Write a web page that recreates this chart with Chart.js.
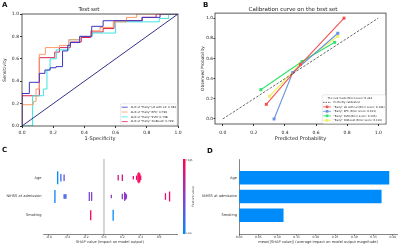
<!DOCTYPE html>
<html>
<head>
<meta charset="utf-8">
<script src="https://cdn.jsdelivr.net/npm/chart.js@4.4.1/dist/chart.umd.min.js"></script>
<style>
  html, body { margin: 0; padding: 0; background: #fff; }
  body { width: 400px; height: 246px; position: relative; overflow: hidden; font-family: "DejaVu Sans", sans-serif; }
  .panel { position: absolute; }
  .tag { position: absolute; font-weight: bold; font-size: 7px; line-height: 7px; color: #111; }
</style>
</head>
<body>
<div class="panel" style="left:0;top:0;width:200px;height:146px"><canvas id="rocChart"></canvas></div>
<div class="panel" style="left:200px;top:0;width:200px;height:146px"><canvas id="calibChart"></canvas></div>
<div class="panel" style="left:0;top:148px;width:200px;height:98px"><canvas id="swarmChart"></canvas></div>
<div class="panel" style="left:200px;top:148px;width:200px;height:98px"><canvas id="barChart"></canvas></div>
<div class="tag" style="left:2px;top:2px">A</div>
<div class="tag" style="left:203px;top:2px">B</div>
<div class="tag" style="left:2px;top:147px">C</div>
<div class="tag" style="left:207px;top:148px">D</div>
<script>
Chart.defaults.font.family = '"DejaVu Sans", sans-serif';
Chart.defaults.color = '#222';
Chart.defaults.animation = false;

// ---- A: ROC on the test set ----
const unitTicks = [0, 0.2, 0.4, 0.6, 0.8, 1.0];
const rocLabels = [
    'AUC of "Early" LR with L2: 0.784',
    'AUC of "Early" RFC: 0.799',
    'AUC of "Early" SVM: 0.738',
    'AUC of "Early" XGBoost: 0.799',
];
const chanceFpr = [0, 1];
const chanceTpr = [0, 1];
const lrFpr = [0, 0, 0.047, 0.047, 0.111, 0.111, 0.147, 0.147, 0.18, 0.18, 0.218, 0.218, 0.26, 0.26, 0.293, 0.293, 0.31, 0.31, 0.37, 0.37, 0.447, 0.447, 0.52, 0.52, 0.77, 0.77, 0.885, 0.885, 1];
const lrTpr = [0, 0.29, 0.29, 0.39, 0.39, 0.47, 0.47, 0.50, 0.50, 0.52, 0.52, 0.53, 0.53, 0.67, 0.67, 0.72, 0.72, 0.745, 0.745, 0.80, 0.80, 0.89, 0.89, 0.94, 0.94, 0.97, 0.97, 1, 1];
const rfcFpr = [0, 0, 0.073, 0.073, 0.09, 0.09, 0.111, 0.111, 0.15, 0.15, 0.24, 0.24, 0.30, 0.30, 0.37, 0.37, 0.44, 0.44, 0.50, 0.50, 0.585, 0.585, 0.67, 0.67, 0.735, 0.735, 1];
const rfcTpr = [0, 0.19, 0.19, 0.22, 0.22, 0.33, 0.33, 0.64, 0.64, 0.70, 0.70, 0.72, 0.72, 0.77, 0.77, 0.80, 0.80, 0.85, 0.85, 0.88, 0.88, 0.93, 0.93, 0.97, 0.97, 1, 1];
const svmFpr = [0, 0.068, 0.068, 0.137, 0.137, 0.16, 0.16, 0.18, 0.18, 0.22, 0.22, 0.30, 0.30, 0.37, 0.37, 0.45, 0.45, 0.60, 0.60, 0.88, 0.88, 0.94, 0.94, 1];
const svmTpr = [0, 0, 0.27, 0.27, 0.33, 0.33, 0.50, 0.50, 0.60, 0.60, 0.68, 0.68, 0.77, 0.77, 0.80, 0.80, 0.83, 0.83, 0.93, 0.93, 0.96, 0.96, 1, 1];
const xgbFpr = [0, 0, 0.111, 0.111, 0.21, 0.21, 0.24, 0.24, 0.31, 0.31, 0.38, 0.38, 0.44, 0.44, 0.52, 0.52, 0.59, 0.59, 0.77, 0.77, 0.86, 0.86, 1];
const xgbTpr = [0, 0.27, 0.27, 0.61, 0.61, 0.66, 0.66, 0.70, 0.70, 0.75, 0.75, 0.79, 0.79, 0.84, 0.84, 0.87, 0.87, 0.94, 0.94, 0.97, 0.97, 1, 1];

// ---- B: calibration on the test set ----
const nullModelText = 'The null model Brier score: 0.244';
const perfectLabel = 'Perfectly calibrated';
const calibLabels = [
    '"Early" LR with L2 (Brier score: 0.184)',
    '"Early" RFC (Brier score: 0.191)',
    '"Early" SVM (Brier score: 0.195)',
    '"Early" XGBoost (Brier score: 0.191)',
];
const perfectPred = [0, 1];
const perfectObs = [0, 1];
const lrPred = [0.28, 0.50, 0.78];
const lrObs = [0.145, 0.54, 1.0];
const rfcPred = [0.33, 0.45, 0.74];
const rfcObs = [0.0, 0.46, 0.85];
const svmPred = [0.245, 0.51, 0.72];
const svmObs = [0.29, 0.57, 0.76];
const xgbPred = [0.30, 0.50, 0.74];
const xgbObs = [0.225, 0.55, 0.82];

// ---- C / D: SHAP ----
const features = ['Age', 'NIHSS at admission', 'Smoking'];
const shapTicks = [-0.6, -0.4, -0.2, 0.0, 0.2, 0.4, 0.6];
const ageShap = [-0.505, -0.47, -0.435, 0.155, 0.20, 0.32, 0.355, 0.37, 0.38, 0.39, 0.40];
const ageValue = [0.0, 0.2, 0.35, 0.8, 0.8, 0.85, 0.9, 0.95, 1.0, 0.95, 0.9];
const ageCount = [12, 7, 6, 5, 6, 3, 4, 8, 10, 8, 4];
const nihssShap = [-0.535, -0.435, -0.425, -0.415, -0.16, -0.135, 0.08, 0.20, 0.225, 0.235, 0.245, 0.67, 0.715];
const nihssValue = [0.05, 0.25, 0.25, 0.25, 0.4, 0.5, 0.5, 0.45, 0.5, 0.5, 0.45, 0.85, 0.95];
const nihssCount = [12, 4, 4, 4, 8, 8, 3, 5, 8, 6, 4, 6, 9];
const smokingShap = [-0.145, 0.10];
const smokingValue = [1.0, 0.0];
const smokingCount = [9, 10];
const meanAbsShap = [0.39, 0.37, 0.115];
const barTicks = [0, 0.05, 0.10, 0.15, 0.20, 0.25, 0.30, 0.35, 0.40];

const pts = (xs, ys) => xs.map((x, i) => ({x: x, y: ys[i]}));
const fixSize = (px) => (scale) => {
    if (scale.isHorizontal()) scale.height = px; else scale.width = px;
};
const useTicks = (values) => (scale) => {
    scale.ticks = values.map(v => ({value: v}));
};

// shap red_blue colour map
const shapStops = [[0, [0, 139, 251]], [0.5, [140, 60, 200]], [1, [255, 0, 82]]];
const shapColor = (t) => {
    for (let i = 1; i < shapStops.length; i++) {
        const [t1, c1] = shapStops[i];
        const [t0, c0] = shapStops[i - 1];
        if (t <= t1) {
            const f = (t - t0) / (t1 - t0);
            const c = c0.map((v, k) => Math.round(v + (c1[k] - v) * f));
            return `rgb(${c[0]},${c[1]},${c[2]})`;
        }
    }
    return 'rgb(255,0,82)';
};

// box round the plot area
const frame = {
    id: 'frame',
    afterDatasetsDraw(chart, args, opts) {
        const {ctx, chartArea: a} = chart;
        ctx.save();
        ctx.strokeStyle = opts.color || '#333';
        ctx.lineWidth = opts.width || 0.8;
        ctx.strokeRect(a.left, a.top, a.right - a.left, a.bottom - a.top);
        ctx.restore();
    }
};

// matplotlib-like legend in the lower right corner of the plot area
const boxLegend = {
    id: 'boxLegend',
    afterDraw(chart, args, opts) {
        if (!opts.items) return;
        const {ctx, chartArea: a} = chart;
        const fs = opts.fontSize, rowH = opts.rowHeight, sw = opts.swatch, pad = opts.pad, gap = opts.gap;
        ctx.save();
        ctx.font = `${fs}px "DejaVu Sans"`;
        const textW = Math.max(...opts.items.map(it => ctx.measureText(it.text).width));
        const w = pad * 2 + sw + gap + textW;
        const h = pad * 2 + rowH * opts.items.length;
        const x0 = a.right - opts.margin - w;
        const y0 = a.bottom - opts.margin - h;
        ctx.fillStyle = 'rgba(255,255,255,0.85)';
        ctx.strokeStyle = '#d0d0d0';
        ctx.lineWidth = 0.5;
        ctx.beginPath();
        ctx.roundRect(x0, y0, w, h, 1);
        ctx.fill();
        ctx.stroke();
        ctx.textBaseline = 'middle';
        opts.items.forEach((it, i) => {
            const cy = y0 + pad + rowH * (i + 0.5);
            const sx = x0 + pad;
            ctx.strokeStyle = it.color;
            ctx.fillStyle = it.color;
            ctx.lineWidth = 0.8;
            ctx.setLineDash(it.kind === 'dash' ? [1.5, 1] : []);
            if (it.kind !== 'none') {
                ctx.beginPath();
                ctx.moveTo(sx, cy);
                ctx.lineTo(sx + sw, cy);
                ctx.stroke();
            }
            if (it.kind === 'square') {
                ctx.fillRect(sx + sw / 2 - 1.3, cy - 1.3, 2.6, 2.6);
            }
            ctx.setLineDash([]);
            ctx.fillStyle = '#222';
            const tx = it.kind === 'none' ? sx + sw * 0.55 : sx + sw + gap;
            ctx.fillText(it.text, tx, cy);
        });
        ctx.restore();
    }
};

// vertical colour bar for the beeswarm
const colorBar = {
    id: 'colorBar',
    afterDraw(chart, args, opts) {
        if (!opts.title) return;
        const {ctx, chartArea: a} = chart;
        const x = a.right + opts.offset;
        ctx.save();
        const g = ctx.createLinearGradient(0, a.bottom, 0, a.top);
        shapStops.forEach(([t, c]) => g.addColorStop(t, `rgb(${c[0]},${c[1]},${c[2]})`));
        ctx.fillStyle = g;
        ctx.fillRect(x, a.top, opts.width, a.bottom - a.top);
        ctx.fillStyle = '#333';
        ctx.font = '2.6px "DejaVu Sans"';
        ctx.textBaseline = 'middle';
        ctx.fillText(opts.high, x + opts.width + 1, a.top + 1);
        ctx.fillText(opts.low, x + opts.width + 1, a.bottom - 1);
        ctx.font = '3px "DejaVu Sans"';
        ctx.translate(x + opts.width + 8, (a.top + a.bottom) / 2);
        ctx.rotate(-Math.PI / 2);
        ctx.textAlign = 'center';
        ctx.fillText(opts.title, 0, 0);
        ctx.restore();
    }
};

const roc = (label, xs, ys, color) => ({
    label: label,
    data: pts(xs, ys),
    showLine: true,
    borderColor: color,
    borderWidth: 1,
    pointRadius: 0,
});

const rocColors = ['#3a36c4', '#ff9a66', '#3ee4e4', '#e3204e'];
new Chart($("rocChart"), {
    type: 'scatter',
    data: {
        datasets: [
            {label: 'chance', data: pts(chanceFpr, chanceTpr), showLine: true, borderColor: '#1c1c78', borderWidth: 0.9, pointRadius: 0},
            roc(rocLabels[0], lrFpr, lrTpr, rocColors[0]),
            roc(rocLabels[1], rfcFpr, rfcTpr, rocColors[1]),
            roc(rocLabels[2], svmFpr, svmTpr, rocColors[2]),
            roc(rocLabels[3], xgbFpr, xgbTpr, rocColors[3]),
        ]
    },
    options: {
        responsive: true,
        maintainAspectRatio: false,
        layout: {padding: {left: 0, right: 22, top: 0, bottom: 0}},
        plugins: {
            legend: {display: false},
            tooltip: {enabled: false},
            title: {display: true, text: 'Test set', color: '#222', font: {size: 5.5, weight: 'normal'}, padding: {top: 6, bottom: 1.4}},
            frame: {color: '#333', width: 0.8},
            boxLegend: {
                items: rocLabels.map((t, i) => ({text: t, color: rocColors[i], kind: 'line'})),
                fontSize: 2.8, rowHeight: 4.8, swatch: 6, gap: 3, pad: 1, margin: 1,
            },
        },
        scales: {
            x: {
                min: 0, max: 1,
                afterFit: fixSize(20),
                afterBuildTicks: useTicks(unitTicks),
                grid: {drawOnChartArea: false, tickLength: 2, color: '#333'},
                border: {display: false},
                ticks: {font: {size: 4.5}, padding: 2.5, maxRotation: 0, autoSkip: false, callback: v => v.toFixed(1)},
                title: {display: true, text: '1-Specificity', font: {size: 5}, padding: {top: 0, bottom: 4}},
            },
            y: {
                min: 0, max: 1,
                afterFit: fixSize(22),
                afterBuildTicks: useTicks(unitTicks),
                grid: {drawOnChartArea: false, tickLength: 2, color: '#333'},
                border: {display: false},
                ticks: {font: {size: 4.5}, padding: 1, autoSkip: false, callback: v => v.toFixed(1)},
                title: {display: true, text: 'Sensitivity', font: {size: 4.5}, padding: {top: 2.3, bottom: 0}},
            }
        }
    },
    plugins: [frame, boxLegend]
});

const calib = (label, xs, ys, color) => ({
    label: label,
    data: pts(xs, ys),
    showLine: true,
    borderColor: color,
    backgroundColor: color,
    borderWidth: 1.1,
    pointStyle: 'rect',
    pointRadius: 2.1,
    pointBorderWidth: 0,
});

const calibColors = ['#f05454', '#6a92e2', '#2ee46a', '#eef25a'];
new Chart($("calibChart"), {
    type: 'scatter',
    data: {
        datasets: [
            {label: perfectLabel, data: pts(perfectPred, perfectObs), showLine: true, borderColor: '#444', borderWidth: 0.8, borderDash: [2.5, 1.5], pointRadius: 0},
            calib(calibLabels[0], lrPred, lrObs, calibColors[0]),
            calib(calibLabels[1], rfcPred, rfcObs, calibColors[1]),
            calib(calibLabels[2], svmPred, svmObs, calibColors[2]),
            calib(calibLabels[3], xgbPred, xgbObs, calibColors[3]),
        ]
    },
    options: {
        responsive: true,
        maintainAspectRatio: false,
        layout: {padding: {left: 0, right: 14, top: 0, bottom: 0}},
        plugins: {
            legend: {display: false},
            tooltip: {enabled: false},
            title: {display: true, text: 'Calibration curve on the test set', color: '#222', font: {size: 5.5, weight: 'normal'}, padding: {top: 6.5, bottom: 0}},
            frame: {color: '#333', width: 0.8},
            boxLegend: {
                items: [
                    {text: nullModelText, color: '#fff', kind: 'none'},
                    {text: perfectLabel, color: '#444', kind: 'dash'},
                    ...calibLabels.map((t, i) => ({text: t, color: calibColors[i], kind: 'square'})),
                ],
                fontSize: 2.7, rowHeight: 4.5, swatch: 8, gap: 2.5, pad: 0.8, margin: 0.6,
            },
        },
        scales: {
            x: {
                min: -0.05, max: 1.05,
                afterFit: fixSize(22),
                afterBuildTicks: useTicks(unitTicks),
                grid: {drawOnChartArea: false, tickLength: 2, color: '#333'},
                border: {display: false},
                ticks: {font: {size: 4.5}, padding: 4.5, maxRotation: 0, autoSkip: false, callback: v => v.toFixed(1)},
                title: {display: true, text: 'Predicted Probability', font: {size: 5}, padding: {top: 0, bottom: 4}},
            },
            y: {
                min: -0.05, max: 1.05,
                afterFit: fixSize(15),
                afterBuildTicks: useTicks(unitTicks),
                grid: {drawOnChartArea: false, tickLength: 1.5, color: '#333'},
                border: {display: false},
                ticks: {font: {size: 4.3}, padding: 0.5, autoSkip: false, callback: v => v.toFixed(1)},
                title: {display: true, text: 'Observed Probability', font: {size: 4.3}, padding: {top: 0, bottom: 0}},
            }
        }
    },
    plugins: [frame, boxLegend]
});

const swarm = (shap, value, count, row) => ({
    data: shap.map(x => ({x: x, y: row})),
    pointStyle: 'line',
    rotation: 90,
    pointRadius: count.map(c => c * 0.55),
    pointBorderWidth: 1.3,
    pointBorderColor: value.map(shapColor),
    pointHoverRadius: 0,
});

const rowOf = (name) => features.length - 1 - features.indexOf(name);
const featureTicks = features.map((f, i) => features.length - 1 - i);

new Chart($("swarmChart"), {
    type: 'scatter',
    data: {
        datasets: [
            {data: [{x: 0, y: -1}, {x: 0, y: 3}], showLine: true, borderColor: '#999', borderWidth: 0.8, pointRadius: 0},
            swarm(ageShap, ageValue, ageCount, rowOf('Age')),
            swarm(nihssShap, nihssValue, nihssCount, rowOf('NIHSS at admission')),
            swarm(smokingShap, smokingValue, smokingCount, rowOf('Smoking')),
        ]
    },
    options: {
        responsive: true,
        maintainAspectRatio: false,
        clip: false,
        layout: {padding: {left: 0, right: 23, top: 11, bottom: 0}},
        plugins: {
            legend: {display: false},
            tooltip: {enabled: false},
            colorBar: {title: 'Feature value', high: 'High', low: 'Low', offset: 6, width: 2.5},
        },
        scales: {
            x: {
                min: -0.665, max: 0.796,
                afterFit: fixSize(12),
                afterBuildTicks: useTicks(shapTicks),
                grid: {drawOnChartArea: false, tickLength: 1.5, color: '#333'},
                border: {display: true, color: '#333', width: 0.6},
                ticks: {font: {size: 3}, color: '#333', padding: 0.3, maxRotation: 0, autoSkip: false, callback: v => v.toFixed(1)},
                title: {display: true, text: 'SHAP value (impact on model output)', color: '#333', font: {size: 3.6}, padding: {top: 0, bottom: 1.6}},
            },
            y: {
                min: -1, max: 3,
                afterFit: fixSize(43),
                afterBuildTicks: useTicks(featureTicks),
                grid: {display: false, drawTicks: false},
                border: {display: false},
                ticks: {font: {size: 3.6}, color: '#333', padding: 1.5, autoSkip: false, callback: v => features[features.length - 1 - v]},
            }
        }
    },
    plugins: [colorBar]
});

new Chart($("barChart"), {
    type: 'bar',
    data: {
        datasets: [{
            data: meanAbsShap.map((v, i) => ({x: v, y: features.length - 1 - i})),
            backgroundColor: '#008bfb',
            barThickness: 13,
        }]
    },
    options: {
        indexAxis: 'y',
        responsive: true,
        maintainAspectRatio: false,
        layout: {padding: {left: 0, right: 3, top: 11, bottom: 0}},
        plugins: {
            legend: {display: false},
            tooltip: {enabled: false},
        },
        scales: {
            x: {
                type: 'linear',
                min: 0, max: 0.411,
                afterFit: fixSize(12),
                afterBuildTicks: useTicks(barTicks),
                grid: {drawOnChartArea: false, tickLength: 1.5, color: '#333'},
                border: {display: true, color: '#333', width: 0.6},
                ticks: {font: {size: 3}, color: '#333', padding: 0.3, maxRotation: 0, autoSkip: false, callback: v => v.toFixed(2)},
                title: {display: true, text: 'mean(|SHAP value|) (average impact on model output magnitude)', color: '#333', font: {size: 3.6}, padding: {top: 0, bottom: 1.6}},
            },
            y: {
                type: 'linear',
                offset: false,
                min: -1, max: 3,
                afterFit: fixSize(39),
                afterBuildTicks: useTicks(featureTicks),
                grid: {display: false, drawTicks: false, offset: false},
                border: {display: true, color: '#333', width: 0.6},
                ticks: {font: {size: 3.6}, color: '#333', padding: 2, autoSkip: false, callback: v => features[features.length - 1 - v]},
            }
        }
    }
});

function $(id) { return document.getElementById(id); }
</script>
</body>
</html>
